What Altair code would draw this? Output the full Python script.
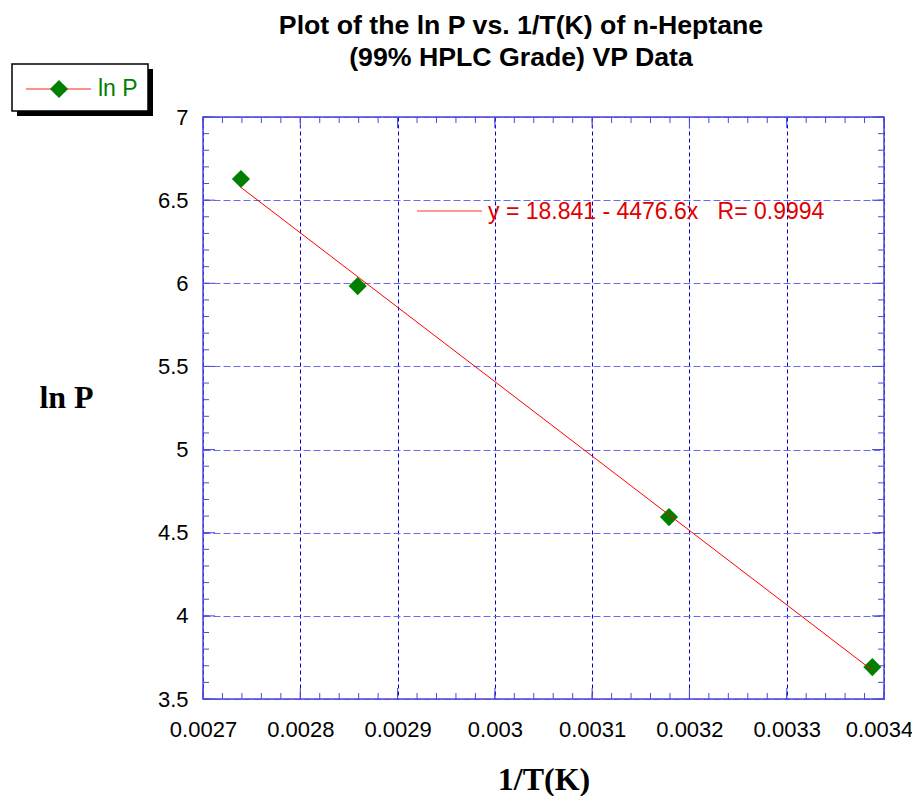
import altair as alt
import pandas as pd

# ---- data ----
inv_T = [0.002739, 0.002859, 0.003179, 0.003388]
ln_P = [6.627, 5.983, 4.594, 3.692]

x_major = [0.0027, 0.0028, 0.0029, 0.003, 0.0031, 0.0032, 0.0033, 0.0034]
y_major = [3.5, 4, 4.5, 5, 5.5, 6, 6.5, 7]
x_minor = [round(0.0027 + i * 0.00002, 5) for i in range(36)]
y_minor = [round(3.5 + i * 0.1, 1) for i in range(36)]

title_line1 = "Plot of the ln P vs. 1/T(K) of n-Heptane"
title_line2 = "(99% HPLC Grade) VP Data"
fit_text = "y = 18.841 - 4476.6x\u00a0\u00a0\u00a0R= 0.9994"
legend_label = "ln P"

W, H = 681, 582
FRAME = "#4a4ae0"
SANS = "Liberation Sans"
SERIF = "Liberation Serif"

df = pd.DataFrame({"x": inv_T, "y": ln_P})
dxmin = pd.DataFrame({"x": x_minor})
dxmaj = pd.DataFrame({"x": x_major})
dymin = pd.DataFrame({"y": y_minor})
dymaj = pd.DataFrame({"y": y_major})
one = pd.DataFrame({"a": [0]})

xscale = alt.Scale(domain=[0.0027, 0.0034], nice=False, zero=False)
yscale = alt.Scale(domain=[3.5, 7], nice=False, zero=False)

xaxis = alt.Axis(
    values=x_major, format="~g", title="1/T(K)", ticks=False, domain=False,
    grid=True, gridColor="#0000cc", gridDash=[4, 3], gridWidth=1,
    labelFont=SANS, labelFontSize=22, labelColor="black", labelPadding=30,
    labelBaseline="middle", labelFlush=False,
    labelOffset={"condition": {"test": "datum.value >= 0.00339", "value": -5}, "value": 0},
    titleFont=SERIF, titleFontSize=32, titleFontWeight="bold", titleColor="black",
    titleX=W / 2, titleY=90, titleBaseline="alphabetic", titleAlign="center",
)
yaxis = alt.Axis(
    values=y_major, format="~g", title="ln P", ticks=False, domain=False,
    grid=True, gridColor="#6a6aee", gridDash=[7, 3], gridWidth=1,
    labelFont=SANS, labelFontSize=22, labelColor="black", labelPadding=15,
    titleFont=SERIF, titleFontSize=32, titleFontWeight="bold", titleColor="black",
    titleAngle=0, titleX=-137, titleY=280, titleAlign="center", titleBaseline="middle",
)

base = alt.Chart(df)

points = base.mark_point(shape="diamond", filled=True, color="#008000", size=330, opacity=1).encode(
    x=alt.X("x:Q", scale=xscale, axis=xaxis, title="1/T(K)"),
    y=alt.Y("y:Q", scale=yscale, axis=yaxis, title="ln P"),
)

fit = base.transform_regression("x", "y").mark_line(color="#ff0000", strokeWidth=1).encode(
    x=alt.X("x:Q", title="1/T(K)"),
    y=alt.Y("y:Q", title="ln P"),
)

frame = alt.Chart(one).mark_rect(fill=None, stroke=FRAME, strokeWidth=1.5).encode(
    x=alt.value(0), x2=alt.value(W), y=alt.value(0), y2=alt.value(H))

# inward ticks on all four sides
def xticks(data, length):
    bot = alt.Chart(data).mark_rule(color=FRAME, strokeWidth=1).encode(
        x=alt.X("x:Q", title="1/T(K)"), y=alt.value(H), y2=alt.value(H - length))
    top = alt.Chart(data).mark_rule(color=FRAME, strokeWidth=1).encode(
        x=alt.X("x:Q", title="1/T(K)"), y=alt.value(0), y2=alt.value(length))
    return [bot, top]

def yticks(data, length):
    left = alt.Chart(data).mark_rule(color=FRAME, strokeWidth=1).encode(
        y=alt.Y("y:Q", title="ln P"), x=alt.value(0), x2=alt.value(length))
    right = alt.Chart(data).mark_rule(color=FRAME, strokeWidth=1).encode(
        y=alt.Y("y:Q", title="ln P"), x=alt.value(W), x2=alt.value(W - length))
    return [left, right]

tick_layers = xticks(dxmin, 6) + xticks(dxmaj, 11) + yticks(dymin, 6) + yticks(dymaj, 12)

# fit annotation
ann_line = alt.Chart(one).mark_rule(color="#ff3030", strokeWidth=1).encode(
    x=alt.value(214), x2=alt.value(279), y=alt.value(94))
ann_text = alt.Chart(one).mark_text(
    text=fit_text, color="#e00000", font=SANS, fontSize=23, align="left", baseline="middle"
).encode(x=alt.value(285), y=alt.value(95))

# legend box
shadow = alt.Chart(one).mark_rect(color="black").encode(
    x=alt.value(-186), x2=alt.value(-50), y=alt.value(-48), y2=alt.value(-1))
box = alt.Chart(one).mark_rect(fill="white", stroke="black", strokeWidth=1.5).encode(
    x=alt.value(-191), x2=alt.value(-55), y=alt.value(-53), y2=alt.value(-6))
leg_line = alt.Chart(one).mark_rule(color="#ff2020", strokeWidth=1).encode(
    x=alt.value(-177), x2=alt.value(-112), y=alt.value(-28))
leg_pt = alt.Chart(one).mark_point(shape="diamond", filled=True, color="#008000", size=330, opacity=1).encode(
    x=alt.value(-144), y=alt.value(-28))
leg_txt = alt.Chart(one).mark_text(
    text=legend_label, color="#008000", font=SANS, fontSize=23, align="left", baseline="middle"
).encode(x=alt.value(-105), y=alt.value(-28))

# title
t1 = alt.Chart(one).mark_text(
    text=title_line1, color="black", font=SANS, fontSize=26.7, fontWeight="bold",
    align="center", baseline="alphabetic"
).encode(x=alt.value(318), y=alt.value(-83))
t2 = alt.Chart(one).mark_text(
    text=title_line2, color="black", font=SANS, fontSize=26.7, fontWeight="bold",
    align="center", baseline="alphabetic"
).encode(x=alt.value(318), y=alt.value(-51))

chart = alt.layer(
    points, fit, frame, *tick_layers, ann_line, ann_text,
    shadow, box, leg_line, leg_pt, leg_txt, t1, t2
).properties(
    width=W, height=H,
    autosize=alt.AutoSizeParams(type="none"),
    padding={"left": 195, "top": 109, "right": 28, "bottom": 97},
).configure_view(
    stroke=None
).configure(background="white")

chart.save("out.html", embed_options={"renderer": "svg", "actions": False})
